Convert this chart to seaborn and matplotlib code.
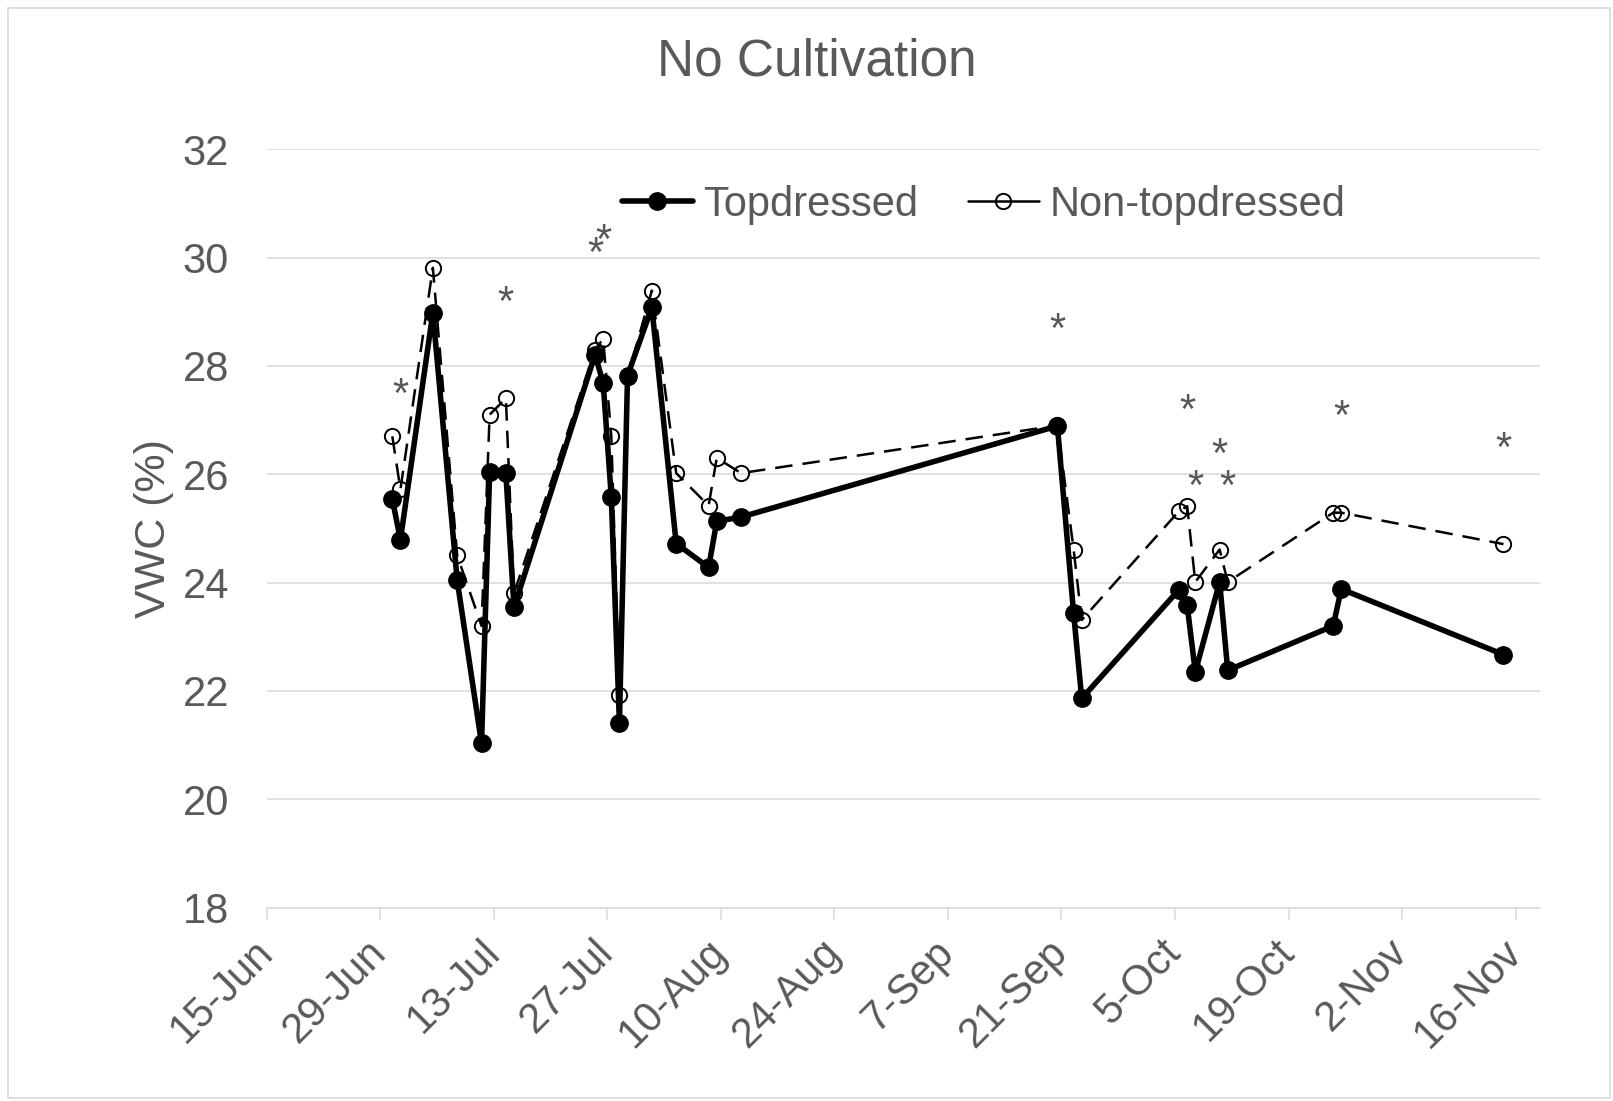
import matplotlib
matplotlib.use("Agg")
import matplotlib.pyplot as plt
import matplotlib.patches as mpatches
from matplotlib.lines import Line2D
import pandas as pd
import seaborn as sns

YEAR = 2019

# ---- data -------------------------------------------------------------
dates = ['30-Jun', '1-Jul', '5-Jul', '8-Jul', '11-Jul', '12-Jul', '14-Jul', '15-Jul',
         '25-Jul', '26-Jul', '27-Jul', '28-Jul', '29-Jul', '1-Aug', '4-Aug', '8-Aug',
         '9-Aug', '12-Aug', '20-Sep', '22-Sep', '23-Sep', '5-Oct', '6-Oct', '7-Oct',
         '10-Oct', '11-Oct', '24-Oct', '25-Oct', '14-Nov']
topdressed = [25.54, 24.79, 28.98, 24.04, 21.03, 26.04, 26.02, 23.54,
              28.21, 27.68, 25.58, 21.41, 27.82, 29.08, 24.72, 24.28,
              25.13, 25.21, 26.89, 23.43, 21.86, 23.87, 23.58, 22.35,
              24.01, 22.38, 23.20, 23.88, 22.67]
non_topdressed = [26.70, 25.72, 29.81, 24.50, 23.20, 27.10, 27.40, 23.80,
                  28.30, 28.50, 26.70, 21.92, 27.80, 29.39, 26.02, 25.42,
                  26.30, 26.02, 26.90, 24.61, 23.31, 25.32, 25.41, 24.01,
                  24.61, 24.01, 25.29, 25.29, 24.71]
sig_dates = ['1-Jul', '14-Jul', '25-Jul', '26-Jul', '20-Sep', '6-Oct', '7-Oct',
             '10-Oct', '11-Oct', '25-Oct', '14-Nov']
sig_heights = [27.7, 29.4, 30.3, 30.55, 28.9, 27.4, 26.0, 26.6, 26.0, 27.3, 26.7]
tick_labels = ['15-Jun', '29-Jun', '13-Jul', '27-Jul', '10-Aug', '24-Aug', '7-Sep',
               '21-Sep', '5-Oct', '19-Oct', '2-Nov', '16-Nov']
y_ticks = [18, 20, 22, 24, 26, 28, 30, 32]
series_names = ['Topdressed', 'Non-topdressed']


def to_date(s):
    return pd.to_datetime(f"{s}-{YEAR}", format="%d-%b-%Y")


half_day = pd.Timedelta(hours=12)  # Excel plots dates between tick marks
df = pd.DataFrame({
    'date': [to_date(d) + half_day for d in dates],
    series_names[0]: topdressed,
    series_names[1]: non_topdressed,
})

# ---- style ------------------------------------------------------------
sns.set_theme(style="white")
plt.rcParams['font.family'] = ['Liberation Sans', 'DejaVu Sans']
GREY = '#595959'
GRID = '#D9D9D9'

fig = plt.figure(figsize=(16.13, 11.01), dpi=100)
ax = fig.add_axes([0.16528, 0.17566, 0.78946, 0.68883])

open_style = dict(color='black', marker='o', markersize=11, markerfacecolor='none',
                  markeredgecolor='black', markeredgewidth=1.4)
filled_style = dict(color='black', marker='o', markersize=12.5, markerfacecolor='black',
                    markeredgecolor='black', markeredgewidth=1)

sns.lineplot(data=df, x='date', y=series_names[1], ax=ax, linewidth=1.8,
             linestyle=(0, (7, 4)), zorder=2, estimator=None, sort=False,
             legend=False, **open_style)
sns.lineplot(data=df, x='date', y=series_names[0], ax=ax, linewidth=4.0,
             zorder=3, estimator=None, sort=False, legend=False, **filled_style)

# significance asterisks
for d, h in zip(sig_dates, sig_heights):
    ax.annotate('*', xy=(to_date(d) + half_day, h), xytext=(0, -10),
                textcoords='offset points', ha='center', va='center',
                fontsize=30, color=GREY, zorder=4)

# axes
tick_dates = [to_date(t) for t in tick_labels]
ax.set_xlim(to_date('15-Jun'), to_date('19-Nov'))
ax.set_ylim(18, 32)
ax.set_xticks(tick_dates)
ax.set_xticklabels(tick_labels, rotation=45, ha='right', va='center',
                   rotation_mode='anchor')
ax.set_yticks(y_ticks)
ax.set_yticklabels([str(v) for v in y_ticks])
ax.tick_params(axis='x', length=8.6, width=1.1, color=GRID, direction='out',
               pad=19, labelsize=30, labelcolor=GREY, bottom=True)
ax.tick_params(axis='y', length=0, pad=27, labelsize=30, labelcolor=GREY)
ax.grid(axis='y', color=GRID, linewidth=1.1)
ax.grid(axis='x', visible=False)
for side in ['top', 'right', 'left']:
    ax.spines[side].set_visible(False)
ax.spines['bottom'].set_color(GRID)
ax.spines['bottom'].set_linewidth(1.1)
ax.set_xlabel('')
ax.set_ylabel('VWC (%)', fontsize=31, color=GREY)
ax.yaxis.set_label_coords(-0.0727, 0.5)

# legend (Excel draws the legend keys with solid short lines)
handles = [Line2D([], [], linewidth=4.0, **filled_style),
           Line2D([], [], linewidth=1.8, **open_style)]
ax.legend(handles, series_names,
          loc='center left', bbox_to_anchor=(621.7 / 1613, 1 - 205 / 1101),
          bbox_transform=fig.transFigure, ncol=2, frameon=False,
          borderpad=0, borderaxespad=0, handlelength=1.7, handletextpad=0.25,
          columnspacing=1.2, fontsize=30, labelcolor=GREY)

fig.text(0.5063, 0.9440, 'No Cultivation', ha='center', va='center',
         fontsize=37, color=GREY)

# chart-area border
fig.patches.append(mpatches.Rectangle((8 / 1613, 3 / 1101), 1602 / 1613, 1090 / 1101,
                                      transform=fig.transFigure, fill=False,
                                      edgecolor=GRID, linewidth=1.2))

fig.savefig('out.png', dpi=100, facecolor='white')
